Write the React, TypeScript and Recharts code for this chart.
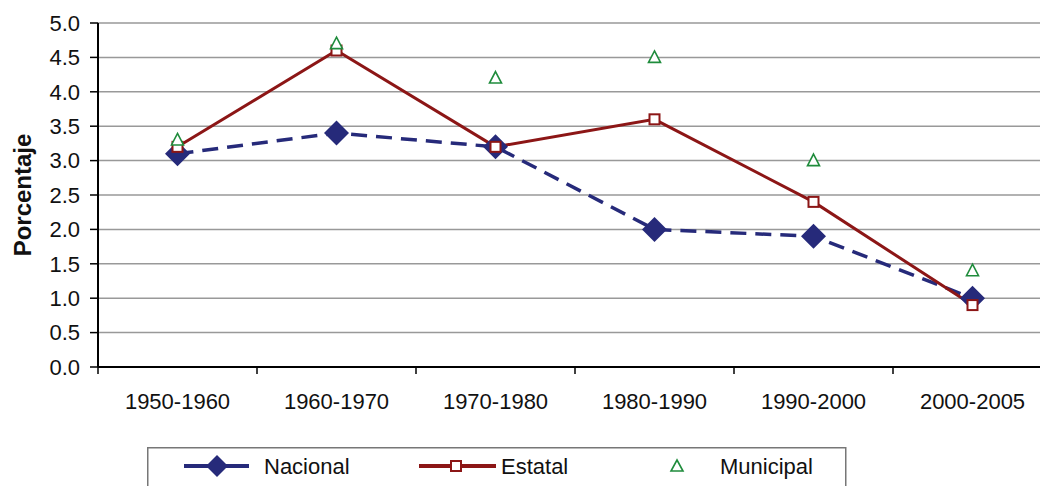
import { LineChart, Line, XAxis, YAxis, CartesianGrid, Label } from "recharts";

const periods = ["1950-1960", "1960-1970", "1970-1980", "1980-1990", "1990-2000", "2000-2005"];
const nacional = [3.1, 3.4, 3.2, 2.0, 1.9, 1.0];
const estatal = [3.2, 4.6, 3.2, 3.6, 2.4, 0.9];
const municipal = [3.3, 4.7, 4.2, 4.5, 3.0, 1.4];
const yTicks = [0, 0.5, 1, 1.5, 2, 2.5, 3, 3.5, 4, 4.5, 5];

const data = periods.map((p, i) => ({
  period: p,
  nacional: nacional[i],
  estatal: estatal[i],
  municipal: municipal[i],
}));

const NAVY = "#262a7a";
const RED = "#8c1616";
const GREEN = "#1f8c3c";
const FONT = "'Liberation Sans', Arial, sans-serif";

const CHART_W = 1060;
const PLOT_W = 954; // 1060 - 98 (y axis) - 8 (right margin)
const BAND = PLOT_W / periods.length;

const Diamond = (props: any) => {
  const { cx, cy, index } = props;
  const r = 12.5;
  return (
    <path
      key={`d-${index}`}
      d={`M${cx},${cy - r} L${cx + r},${cy} L${cx},${cy + r} L${cx - r},${cy} Z`}
      fill={NAVY}
    />
  );
};

const Square = (props: any) => {
  const { cx, cy, index } = props;
  return <rect key={`s-${index}`} x={cx - 5} y={cy - 5} width={10} height={10} fill="#fff" stroke={RED} strokeWidth={2} />;
};

const Triangle = (props: any) => {
  const { cx, cy, index } = props;
  return (
    <path
      key={`t-${index}`}
      d={`M${cx},${cy - 6.5} L${cx + 6},${cy + 5} L${cx - 6},${cy + 5} Z`}
      fill="#fff"
      stroke={GREEN}
      strokeWidth={1.6}
    />
  );
};

// category label centred in its band, tick mark at the band's left edge
const XTick = (props: any) => {
  const { x, y, payload } = props;
  return (
    <g>
      <line x1={x - BAND / 2} x2={x - BAND / 2} y1={y} y2={y + 7} stroke="#000" strokeWidth={1.5} />
      <text x={x} y={y + 42} textAnchor="middle" fontSize={22} fill="#111" fontFamily={FONT}>
        {payload.value}
      </text>
    </g>
  );
};

export default function App() {
  return (
    <div
      style={{
        position: "fixed",
        left: 0,
        top: 0,
        width: 1040,
        height: 486,
        overflow: "hidden",
        background: "#fff",
        fontFamily: FONT,
      }}
    >
      <LineChart width={CHART_W} height={486} data={data} margin={{ top: 23, right: 8, bottom: 89, left: 0 }}>
        <CartesianGrid vertical={false} stroke="#999" strokeWidth={1.5} />
        <XAxis
          dataKey="period"
          height={30}
          interval={0}
          padding={{ left: BAND / 2, right: BAND / 2 }}
          axisLine={{ stroke: "#000", strokeWidth: 2 }}
          tickLine={false}
          tickSize={0}
          tickMargin={0}
          tick={<XTick />}
        />
        <YAxis
          width={98}
          domain={[0, 5]}
          ticks={yTicks}
          interval={0}
          tickFormatter={(v: number) => v.toFixed(1)}
          axisLine={{ stroke: "#000", strokeWidth: 2 }}
          tickLine={{ stroke: "#000", strokeWidth: 1.5 }}
          tickSize={8}
          tickMargin={10}
          tick={{ fontSize: 22, fill: "#111", fontFamily: FONT }}
        >
          <Label
            content={(p: any) => {
              const vb = p.viewBox || { x: 0, y: 23, height: 344 };
              const cx = vb.x + 22;
              const cy = vb.y + vb.height / 2;
              return (
                <text
                  x={cx}
                  y={cy}
                  transform={`rotate(-90 ${cx} ${cy})`}
                  textAnchor="middle"
                  dominantBaseline="central"
                  fontWeight="bold"
                  fontSize={24}
                  fill="#111"
                  fontFamily={FONT}
                >
                  Porcentaje
                </text>
              );
            }}
          />
        </YAxis>
        <Line
          dataKey="nacional"
          name="Nacional"
          stroke={NAVY}
          strokeWidth={3.5}
          strokeDasharray="16 9"
          dot={<Diamond />}
          activeDot={false}
          isAnimationActive={false}
        />
        <Line
          dataKey="estatal"
          name="Estatal"
          stroke={RED}
          strokeWidth={3}
          dot={<Square />}
          activeDot={false}
          isAnimationActive={false}
        />
        <Line
          dataKey="municipal"
          name="Municipal"
          stroke="none"
          strokeWidth={0}
          dot={<Triangle />}
          activeDot={false}
          isAnimationActive={false}
        />
      </LineChart>
      <svg style={{ position: "absolute", left: 147, top: 447 }} width={700} height={45}>
        <rect x={0.75} y={0.75} width={698} height={50} fill="#fff" stroke="#777" strokeWidth={1.5} />
        <line x1={37} x2={102} y1={19} y2={19} stroke={NAVY} strokeWidth={4} />
        <path d="M70,8 L81,19 L70,30 L59,19 Z" fill={NAVY} />
        <text x={117} y={19} dominantBaseline="central" fontSize={22} fill="#111" fontFamily={FONT}>
          Nacional
        </text>
        <line x1={272} x2={349} y1={19} y2={19} stroke={RED} strokeWidth={4} />
        <rect x={304} y={14} width={10} height={10} fill="#fff" stroke={RED} strokeWidth={2} />
        <text x={354} y={19} dominantBaseline="central" fontSize={22} fill="#111" fontFamily={FONT}>
          Estatal
        </text>
        <path d="M530,13 L536,24 L524,24 Z" fill="#fff" stroke={GREEN} strokeWidth={1.6} />
        <text x={573} y={19} dominantBaseline="central" fontSize={22} fill="#111" fontFamily={FONT}>
          Municipal
        </text>
      </svg>
    </div>
  );
}
